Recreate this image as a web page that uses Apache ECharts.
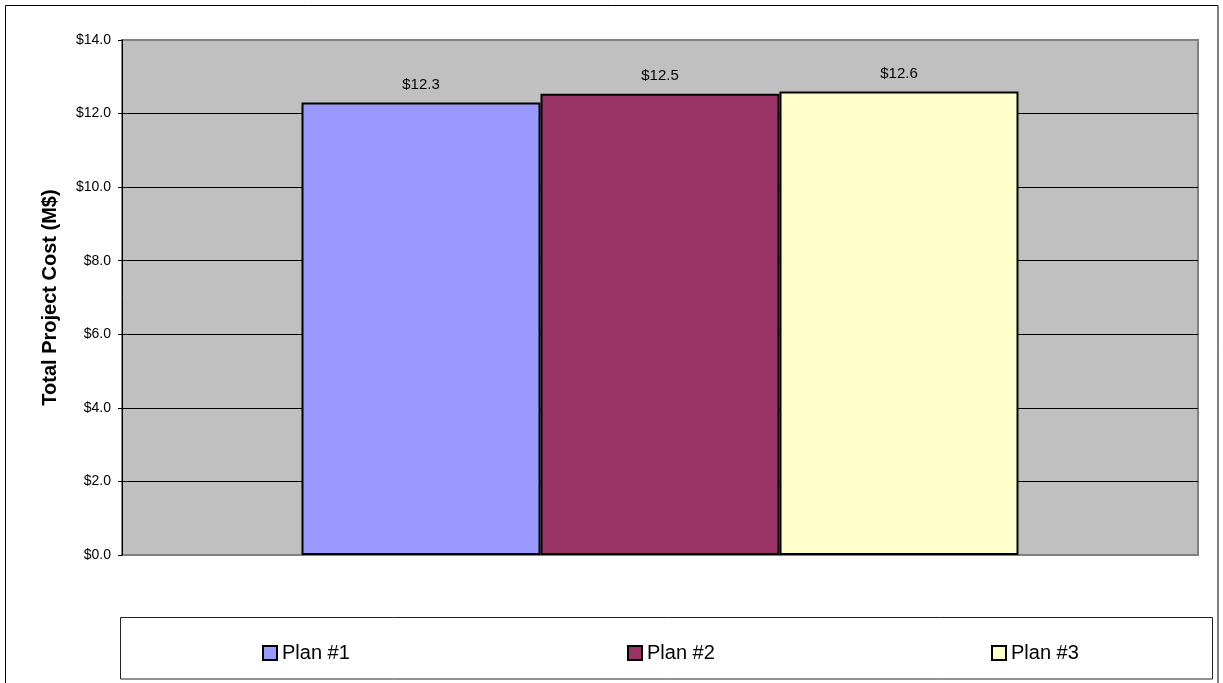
<!DOCTYPE html>
<html>
<head>
<meta charset="utf-8">
<script src="https://cdn.jsdelivr.net/npm/echarts@6/dist/echarts.min.js"></script>
<style>
html,body{margin:0;padding:0;background:#fff;}
#c{width:1223px;height:683px;}
</style>
</head>
<body>
<div id="c"></div>
<script>
const categories = ['Total'];
const seriesNames = ['Plan #1', 'Plan #2', 'Plan #3'];
const plan1 = [12.3];
const plan2 = [12.54];
const plan3 = [12.6];
const seriesValues = [plan1, plan2, plan3];
const seriesColors = ['#9999FF', '#993366', '#FFFFCC'];
const yMin = 0, yMax = 14, yStep = 2;
const yAxisTitle = 'Total Project Cost (M$)';

const FONT = "'Liberation Sans', Arial, sans-serif";
const chart = echarts.init(document.getElementById('c'));

const legendLefts = [257, 622, 986];

const option = {
  animation: false,
  backgroundColor: '#fff',
  textStyle: { fontFamily: FONT },
  grid: {
    left: 122, top: 40, width: 1076, height: 515,
    show: true, backgroundColor: '#C0C0C0',
    borderColor: '#808080', borderWidth: 2
  },
  graphic: [
    { type: 'rect', shape: { x: 5.5, y: 5.5, width: 1212.5, height: 700 },
      style: { fill: 'none', stroke: '#000', lineWidth: 1 }, z: -1 },
    { type: 'rect', shape: { x: 120.5, y: 617.5, width: 1092, height: 61.5 },
      style: { fill: '#fff', stroke: '#222', lineWidth: 1 }, z: -1 }
  ],
  legend: seriesNames.map((n, i) => ({
    data: [n],
    left: legendLefts[i],
    top: 638,
    orient: 'horizontal',
    icon: 'rect',
    itemWidth: 14, itemHeight: 14,
    itemGap: 5,
    itemStyle: { borderColor: '#000', borderWidth: 2 },
    textStyle: { fontSize: 20, color: '#000', fontFamily: FONT }
  })),
  xAxis: {
    type: 'category',
    data: categories,
    axisLine: { show: false },
    axisTick: { show: false },
    axisLabel: { show: false },
    splitLine: { show: false }
  },
  yAxis: {
    type: 'value',
    min: yMin, max: yMax, interval: yStep,
    name: yAxisTitle,
    nameLocation: 'middle',
    nameRotate: 90,
    nameGap: 62,
    nameTextStyle: { fontSize: 20, fontWeight: 'bold', color: '#000', fontFamily: FONT },
    axisLine: { show: true, lineStyle: { color: '#000', width: 1 } },
    axisTick: { show: true, length: 4, lineStyle: { color: '#000' } },
    axisLabel: {
      margin: 11, fontSize: 14, color: '#000', fontFamily: FONT,
      formatter: v => '$' + v.toFixed(1)
    },
    splitLine: {
      show: true,
      lineStyle: { color: ['#808080', '#000', '#000', '#000', '#000', '#000', '#000', '#808080'], width: 1 }
    }
  },
  series: seriesNames.map((n, i) => ({
    name: n,
    type: 'bar',
    data: seriesValues[i],
    barWidth: 239,
    barGap: '0%',
    itemStyle: { color: seriesColors[i], borderColor: '#000', borderWidth: 2 },
    label: {
      show: true, position: 'top', distance: 10,
      fontSize: 15, color: '#000', fontFamily: FONT,
      formatter: p => '$' + p.value.toFixed(1)
    }
  }))
};
chart.setOption(option);
</script>
</body>
</html>
